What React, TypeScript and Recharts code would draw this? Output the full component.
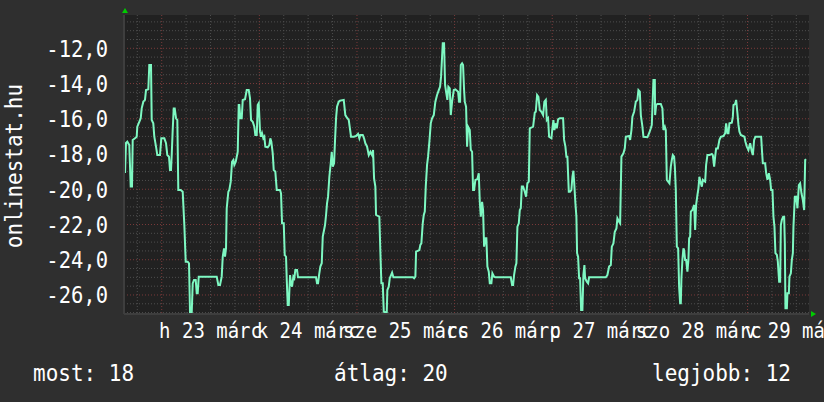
import React from 'react';
import { LineChart, Line, XAxis, YAxis, CartesianGrid } from 'recharts';

// hours relative to márc 23 00:00
const hours = [
  -9.02, -8.78, -8.46, -7.97, -7.62, -7.30, -7.13, -6.57, -6.15, -6.00, -5.51, -5.16, -4.92, -4.52, -4.11, -3.86, -3.29, -3.05, -2.63, -2.46,
  -2.07, -1.82, -1.40, -1.08, -0.42, -0.10, 0.64, 1.06, 1.38, 1.79, 2.04, 2.29, 2.46, 2.70, 2.95, 3.20, 3.52, 3.84, 4.08, 4.67,
  5.16, 5.56, 5.90, 6.39, 6.71, 6.96, 7.38, 7.62, 7.94, 8.36, 8.61, 8.85, 9.10, 13.52, 13.92, 14.33, 14.75, 15.00, 15.32, 15.56,
  15.81, 15.98, 16.38, 16.62, 16.97, 17.29, 17.61, 17.85, 18.20, 18.69, 18.93, 19.08, 19.33, 19.67, 19.92, 20.48, 20.90, 21.39, 21.71, 21.96,
  22.38, 22.77, 23.01, 23.36, 23.60, 23.85, 24.17, 24.42, 24.66, 24.98, 25.23, 25.47, 26.06, 26.46, 26.70, 26.95, 27.29, 27.54, 27.93, 28.28,
  29.09, 29.33, 29.58, 30.00, 30.24, 30.56, 30.74, 30.98, 31.23, 31.55, 31.79, 32.04, 32.36, 32.60, 32.85, 33.27, 33.51, 37.94, 38.18, 38.43,
  38.68, 39.00, 39.34, 39.59, 39.91, 40.15, 40.40, 40.64, 40.89, 41.21, 41.55, 41.80, 42.05, 42.37, 42.61, 42.86, 43.10, 43.52, 43.84, 44.75,
  45.14, 45.49, 45.98, 46.54, 47.21, 47.77, 48.27, 48.59, 48.83, 49.42, 49.74, 50.06, 50.48, 50.90, 51.29, 51.71, 51.95, 52.20, 52.52, 52.69,
  53.50, 53.75, 54.00, 54.34, 54.59, 55.32, 55.47, 55.81, 56.06, 56.38, 56.63, 56.95, 61.79, 62.04, 62.36, 62.53, 63.34, 63.58, 63.83, 64.17,
  64.42, 64.67, 64.91, 65.23, 65.48, 65.80, 66.14, 66.46, 66.88, 67.27, 67.69, 68.11, 68.43, 68.67, 68.92, 69.09, 69.41, 69.66, 69.90, 70.22,
  70.47, 70.81, 71.06, 71.38, 71.80, 72.19, 72.85, 73.10, 73.35, 73.52, 73.84, 74.08, 74.33, 74.50, 74.82, 75.07, 75.31, 75.73, 75.98, 76.30,
  76.54, 76.79, 77.11, 77.60, 77.94, 78.19, 78.44, 78.76, 79.00, 79.25, 79.57, 79.81, 80.06, 80.40, 80.65, 81.04, 81.29, 81.71, 82.03, 85.81,
  86.13, 86.38, 86.62, 86.94, 87.19, 87.44, 87.78, 88.03, 88.27, 88.52, 88.84, 89.25, 89.57, 89.89, 90.24, 90.48, 91.30, 91.71, 91.96, 92.28,
  92.60, 92.94, 93.34, 93.76, 94.07, 94.42, 94.66, 94.98, 95.23, 95.80, 96.04, 96.29, 96.53, 96.78, 97.12, 97.44, 97.86, 98.67, 98.92, 99.24,
  99.48, 99.73, 100.07, 100.39, 100.71, 100.96, 101.20, 101.38, 101.70, 101.94, 102.11, 102.36, 102.61, 102.85, 103.10, 103.42, 103.66, 103.91, 104.08, 104.50,
  104.82, 105.06, 109.17, 109.56, 109.98, 110.40, 110.65, 111.04, 111.38, 111.78, 112.02, 112.44, 112.69, 113.01, 113.50, 113.84, 114.09, 114.90, 115.15, 115.47,
  115.71, 116.13, 116.55, 116.94, 117.19, 117.53, 117.78, 118.17, 118.42, 119.40, 119.82, 120.24, 120.48, 120.73, 120.88, 121.22, 121.29, 121.54, 121.86, 122.69,
  123.09, 123.33, 123.68, 123.92, 124.17, 124.81, 125.15, 125.40, 125.64, 125.96, 126.14, 126.38, 126.63, 126.95, 127.19, 127.44, 127.61, 127.76, 128.00, 128.25,
  128.42, 128.67, 128.91, 129.23, 129.48, 129.65, 129.90, 130.07, 130.46, 130.88, 131.13, 131.37, 131.69, 131.94, 132.18, 132.53, 132.78, 133.02, 133.59, 133.83,
  134.15, 134.65, 135.23, 135.48, 135.80, 136.05, 136.29, 136.71, 137.10, 137.45, 138.09, 138.51, 138.75, 139.07, 139.32, 139.56, 140.15, 140.40, 140.55, 140.96,
  141.21, 141.53, 141.78, 142.02, 142.36, 143.25, 143.49, 143.84, 144.23, 144.65, 145.07, 145.32, 145.63, 145.95, 147.36, 147.60, 147.77, 148.34, 148.59, 148.91,
  149.25, 149.57, 149.81, 150.14, 150.38, 150.63, 150.87, 151.22, 151.46, 151.78, 152.03, 152.20, 152.45, 152.77, 153.01, 153.18, 153.33, 153.68, 153.82, 154.17,
  154.31, 154.66, 154.90, 155.15, 155.30, 155.64, 155.96, 156.28, 156.63, 156.94, 157.27, 157.61, 157.93, 158.18, 158.42,
];

const temps = [
  -19.08, -17.37, -17.30, -17.49, -19.85, -19.85, -17.20, -17.11, -17.02, -16.45, -16.17, -15.97, -15.41, -15.03, -14.93, -14.37, -14.33, -12.95, -12.95, -16.07,
  -16.26, -17.02, -17.58, -18.06, -18.06, -17.11, -17.11, -17.39, -18.06, -18.15, -18.91, -18.91, -18.06, -16.64, -15.41, -15.41, -15.97, -16.07, -20.04, -20.04,
  -20.14, -22.03, -24.11, -24.11, -24.20, -27.00, -27.00, -25.34, -25.15, -25.15, -25.90, -25.90, -24.96, -24.96, -25.43, -25.43, -24.96, -23.83, -23.35, -23.83,
  -23.35, -21.08, -20.14, -20.04, -19.57, -18.44, -18.34, -18.62, -18.44, -17.87, -15.22, -15.22, -15.97, -15.97, -14.93, -14.89, -14.37, -14.37, -14.84, -16.07,
  -16.17, -16.45, -16.92, -16.92, -15.22, -15.12, -16.73, -17.02, -16.82, -17.11, -17.02, -17.58, -17.62, -17.49, -17.11, -17.30, -17.96, -18.91, -19.00, -20.04,
  -20.04, -20.23, -21.93, -21.93, -23.73, -23.83, -25.15, -26.57, -26.57, -24.87, -25.34, -25.53, -24.96, -25.05, -24.58, -24.58, -25.00, -25.00, -25.34, -25.34,
  -24.87, -24.39, -24.20, -22.69, -22.31, -22.03, -21.46, -20.80, -20.42, -19.29, -18.53, -17.87, -18.72, -18.53, -17.20, -15.97, -15.31, -15.03, -14.97, -14.93,
  -15.79, -15.92, -16.07, -17.02, -17.02, -16.98, -16.86, -17.11, -16.92, -16.92, -17.11, -17.39, -17.58, -18.06, -17.87, -18.06, -17.77, -19.38, -19.85, -21.46,
  -21.56, -23.54, -25.34, -25.34, -26.95, -27.00, -25.72, -25.53, -25.05, -24.87, -24.73, -25.00, -25.00, -25.05, -24.96, -23.54, -23.45, -23.16, -23.07, -21.93,
  -21.46, -21.27, -19.85, -18.62, -18.15, -17.30, -16.26, -15.97, -15.79, -15.03, -14.65, -14.37, -14.18, -13.61, -12.48, -11.72, -11.72, -14.08, -14.46, -14.93,
  -14.18, -14.27, -15.79, -15.03, -14.37, -14.33, -14.46, -15.03, -15.03, -12.95, -12.85, -12.95, -14.37, -15.03, -15.31, -17.58, -16.45, -16.64, -17.77, -17.87,
  -20.04, -20.04, -19.47, -19.43, -19.09, -20.71, -21.56, -20.71, -21.18, -23.26, -22.78, -22.78, -24.39, -24.68, -25.34, -25.34, -24.77, -24.96, -25.00, -25.00,
  -25.43, -25.43, -24.87, -24.39, -24.20, -22.12, -21.93, -21.18, -21.08, -19.85, -19.85, -20.14, -20.42, -19.66, -19.57, -16.54, -16.45, -15.65, -15.60, -14.65,
  -14.75, -15.50, -15.60, -15.79, -15.03, -14.93, -16.07, -15.97, -17.02, -17.11, -16.54, -16.07, -16.64, -16.26, -16.54, -16.03, -15.97, -15.97, -17.20, -17.58,
  -18.15, -18.15, -20.14, -20.14, -20.04, -19.29, -18.95, -19.57, -20.80, -21.56, -23.63, -23.83, -25.05, -25.05, -26.85, -26.85, -24.87, -24.30, -25.05, -25.25,
  -25.34, -25.00, -25.00, -24.87, -24.39, -24.30, -23.26, -23.07, -22.41, -22.22, -21.65, -21.84, -21.93, -18.15, -17.96, -17.68, -17.02, -16.98, -17.20, -16.64,
  -15.88, -15.60, -15.03, -14.93, -14.37, -14.46, -15.79, -16.45, -17.02, -17.05, -16.82, -16.54, -16.35, -14.75, -13.80, -13.80, -15.79, -15.22, -15.16, -15.16,
  -15.41, -16.64, -16.45, -16.64, -19.47, -19.66, -18.72, -18.34, -18.06, -18.15, -18.72, -20.04, -23.26, -23.35, -25.53, -26.47, -26.47, -25.05, -24.01, -23.35,
  -23.45, -24.01, -24.01, -24.68, -24.01, -22.78, -22.69, -21.27, -21.18, -20.89, -22.31, -20.89, -20.33, -19.95, -19.29, -19.66, -19.85, -19.47, -19.57, -18.62,
  -18.06, -18.06, -18.00, -18.06, -18.72, -18.15, -17.68, -17.68, -17.20, -17.02, -16.98, -16.82, -16.26, -16.82, -16.82, -16.26, -16.22, -15.88, -15.22, -15.16,
  -14.93, -15.69, -16.35, -16.73, -16.92, -17.02, -17.30, -17.58, -17.77, -17.39, -17.87, -18.06, -17.20, -17.02, -17.02, -17.96, -18.53, -18.53, -19.09, -19.47,
  -19.09, -19.47, -20.04, -20.04, -21.56, -22.12, -23.63, -23.73, -24.11, -25.25, -25.25, -22.03, -21.74, -21.56, -21.56, -23.07, -26.76, -26.76, -25.90, -25.90,
  -24.96, -24.77, -24.01, -23.63, -22.12, -20.42, -20.42, -21.08, -19.76, -19.66, -20.23, -20.61, -21.18, -18.34, -18.30,
];

const dayTicks = [12, 36, 60, 84, 108, 132, 156];
const dayLabels = ['h 23 márc', 'k 24 márc', 'sze 25 márc', 'cs 26 márc', 'p 27 márc', 'szo 28 márc', 'v 29 márc'];
const midnights = [0, 24, 48, 72, 96, 120, 144];
const yTicks = [-26, -24, -22, -20, -18, -16, -14, -12];
const xDomain = [-9.27, 159.12];
const yDomain = [-27.08, -10.11];

const statLabels = ['most', 'átlag', 'legjobb'];
const statValues = [18, 20, 12];
const titleText = 'onlinestat.hu';

const xMinor: number[] = [];
for (let h = -6; h <= 156; h += 6) if (h % 24 !== 0) xMinor.push(h);
const yMinor: number[] = [];
for (let v = -27; v <= -10.5; v += 0.5) if (v % 2 !== 0) yMinor.push(v);

const data = hours.map((h, i) => ({ h, t: temps[i] }));

const FONT = '"DejaVu Sans Mono", monospace';
const BG = '#2f2f2f';
const PLOT_BG = '#212121';
const LINE = '#7ef8c2';
const STRETCH = 1.1;

const fmt = (v: number) => v.toFixed(1).replace('.', ',');

const XTick = (props: any) => {
  const { x, y, payload } = props;
  const i = dayTicks.indexOf(payload.value);
  return (
    <text
      transform={`translate(${x},${y + 24}) scale(1,${STRETCH})`}
      x={0}
      y={0}
      textAnchor="middle"
      fill="#ffffff"
      fontFamily={FONT}
      fontSize={19}
    >
      {dayLabels[i]}
    </text>
  );
};

const YTick = (props: any) => {
  const { x, y, payload } = props;
  return (
    <text
      transform={`translate(${x},${y}) scale(1,${STRETCH})`}
      x={0}
      y={0}
      dy="0.37em"
      textAnchor="end"
      fill="#ffffff"
      fontFamily={FONT}
      fontSize={20.5}
    >
      {fmt(payload.value)}
    </text>
  );
};

const Stat = ({ x, i }: { x: number; i: number }) => (
  <text transform={`translate(${x},381) scale(1,${STRETCH})`} fill="#ffffff" fontFamily={FONT} fontSize={21}>
    {`${statLabels[i]}: ${statValues[i]}`}
  </text>
);

export default function App() {
  return (
    <div style={{ position: 'absolute', left: 0, top: 0, width: 824, height: 402, background: BG, overflow: 'hidden' }}>
      <LineChart width={824} height={402} data={data} margin={{ top: 15, right: 15, bottom: 58, left: 14 }}>
        <CartesianGrid fill={PLOT_BG} stroke="none" />
        <CartesianGrid horizontalValues={yMinor} verticalValues={xMinor} stroke="#4e4e4e" strokeDasharray="1 2" />
        <CartesianGrid horizontalValues={yTicks} verticalValues={midnights} stroke="#7a3a3a" strokeDasharray="1 2" />
        <XAxis
          dataKey="h"
          type="number"
          domain={xDomain}
          allowDataOverflow
          ticks={dayTicks}
          interval={0}
          tick={<XTick />}
          tickSize={0}
          tickMargin={0}
          tickLine={false}
          axisLine={{ stroke: '#3e3e3e', strokeWidth: 2 }}
          height={30}
        />
        <YAxis
          type="number"
          domain={yDomain}
          allowDataOverflow
          ticks={yTicks}
          interval={0}
          tick={<YTick />}
          tickSize={0}
          tickMargin={16}
          tickLine={false}
          axisLine={{ stroke: '#3e3e3e', strokeWidth: 2 }}
          width={110}
        />
        <Line
          type="linear"
          dataKey="t"
          stroke={LINE}
          strokeWidth={2}
          dot={false}
          activeDot={false}
          isAnimationActive={false}
        />
      </LineChart>
      <svg width={824} height={402} style={{ position: 'absolute', left: 0, top: 0, pointerEvents: 'none' }}>
        <text
          transform={`translate(22,166) rotate(-90) scale(1,${STRETCH})`}
          textAnchor="middle"
          fill="#ffffff"
          fontFamily={FONT}
          fontSize={21}
        >
          {titleText}
        </text>
        <Stat x={33} i={0} />
        <Stat x={334} i={1} />
        <Stat x={652} i={2} />
        <polygon points="122,13 128,13 125,8" fill="#00cc00" />
        <polygon points="811,311 811,317 816,314" fill="#00cc00" />
      </svg>
    </div>
  );
}
